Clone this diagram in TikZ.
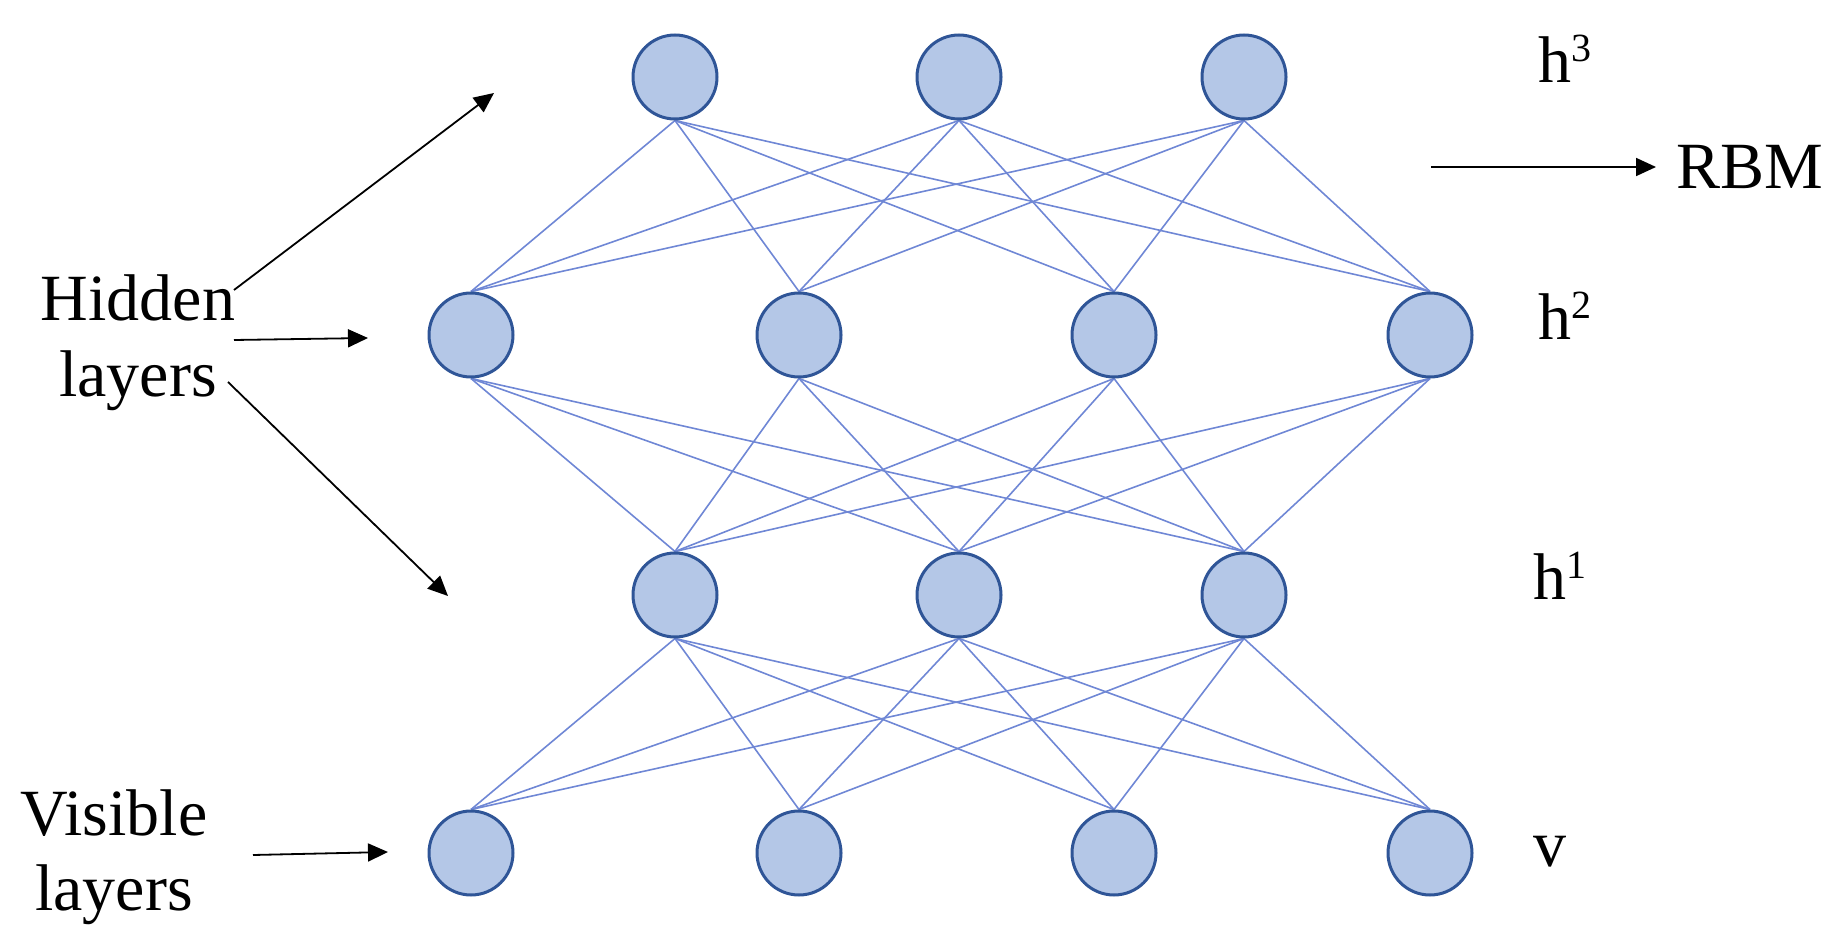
\documentclass[tikz,border=0pt]{standalone}
\usepackage{fontspec}
\setmainfont{LiberationSerif}[Extension=.ttf,UprightFont=*-Regular,BoldFont=*-Bold]
\usetikzlibrary{arrows.meta,backgrounds}
\definecolor{nodefill}{HTML}{B4C7E7}
\definecolor{nodeline}{HTML}{2F5597}
\definecolor{edgecol}{HTML}{6F87D5}
\newcommand{\supx}[1]{\raisebox{10.5pt}{\fontsize{20}{20}\selectfont #1}}
\begin{document}
\begin{tikzpicture}[x=0.5pt,y=-0.5pt,
  unit/.style={circle,minimum size=42pt,inner sep=0pt,draw=nodeline,line width=1.5pt,fill=nodefill},
  lbl/.style={font=\fontsize{33}{38}\selectfont,inner sep=0pt,anchor=base},
  conn/.style={draw=edgecol,line width=0.8pt},
  pointer/.style={draw=black,line width=0.9pt,-{Triangle[length=10pt,width=9pt]}}]
\useasboundingbox (0,0) rectangle (1836,946);
% nodes
\foreach \x [count=\i] in {675,959,1244} {
  \node[unit] (a\i) at (\x,77) {};
  \node[unit] (c\i) at (\x,595) {};
}
\foreach \x [count=\i] in {471,799,1114,1430} {
  \node[unit] (b\i) at (\x,335) {};
  \node[unit] (d\i) at (\x,853) {};
}
\begin{scope}[on background layer]
\foreach \i in {1,2,3} {
  \foreach \j in {1,2,3,4} {
    \draw[conn] (a\i.south) -- (b\j.north);
    \draw[conn] (b\j.south) -- (c\i.north);
    \draw[conn] (c\i.south) -- (d\j.north);
  }
}
\end{scope}
% labels
\node[lbl,anchor=base west] (l3) at (1538,83) {h\supx{3}};
\node[lbl,anchor=base west] (l2) at (1538,340) {h\supx{2}};
\node[lbl,anchor=base west] (l1) at (1533,599) {h\supx{1}};
\node[lbl,anchor=base west] (lv) at (1533,866) {v};
\node[lbl,anchor=base west] (rbm) at (1676,189) {RBM};
\node[lbl] (hid1) at (138,321) {Hidden};
\node[lbl] (hid2) at (138,397) {layers};
\node[lbl] (vis1) at (114,835) {Visible};
\node[lbl] (vis2) at (114,910) {layers};
% arrows
\coordinate (s1) at (234,290); \coordinate (t1) at (494,93);
\coordinate (s2) at (234,340); \coordinate (t2) at (368,338);
\coordinate (s3) at (228,382); \coordinate (t3) at (448,596);
\coordinate (s4) at (253,855); \coordinate (t4) at (388,852);
\coordinate (s5) at (1431,167); \coordinate (t5) at (1656,167);
\draw[pointer] (s1) -- (t1);
\draw[pointer] (s2) -- (t2);
\draw[pointer] (s3) -- (t3);
\draw[pointer] (s4) -- (t4);
\draw[pointer] (s5) -- (t5);
\end{tikzpicture}
\end{document}
